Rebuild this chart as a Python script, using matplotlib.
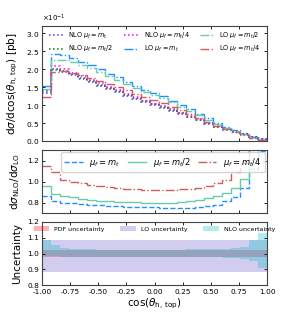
import numpy as np
import matplotlib
matplotlib.use("Agg")
import matplotlib.pyplot as plt

# 25 bins in cos(theta_h,top)
edges = np.linspace(-1.0, 1.0, 26)

# top panel, NLO and LO distributions in units of 1e-1 pb
nlo_mt = np.array([1.33, 1.97, 1.91, 1.83, 1.73, 1.64, 1.54, 1.44, 1.35, 1.25, 1.16, 1.08, 1.00,
                   0.93, 0.84, 0.755, 0.665, 0.575, 0.48, 0.39, 0.32, 0.255, 0.19, 0.113, 0.05])
nlo_mt2 = np.array([1.38, 2.00, 1.94, 1.86, 1.76, 1.67, 1.57, 1.47, 1.38, 1.28, 1.19, 1.10, 1.02,
                    0.95, 0.86, 0.77, 0.68, 0.585, 0.49, 0.40, 0.325, 0.26, 0.195, 0.12, 0.056])
nlo_mt4 = np.array([1.42, 2.08, 1.99, 1.90, 1.80, 1.70, 1.60, 1.50, 1.41, 1.31, 1.22, 1.12, 1.04,
                    0.97, 0.88, 0.79, 0.70, 0.60, 0.50, 0.41, 0.335, 0.27, 0.20, 0.125, 0.06])
lo_mt = np.array([1.54, 2.43, 2.40, 2.30, 2.20, 2.11, 1.99, 1.875, 1.77, 1.645, 1.53, 1.43, 1.33,
                  1.24, 1.12, 1.007, 0.884, 0.757, 0.627, 0.50, 0.392, 0.298, 0.203, 0.101, 0.039])
lo_mt2 = np.array([1.44, 2.265, 2.245, 2.19, 2.115, 2.02, 1.92, 1.81, 1.71, 1.59, 1.48, 1.375, 1.275,
                   1.19, 1.075, 0.957, 0.84, 0.713, 0.583, 0.463, 0.363, 0.277, 0.191, 0.089, 0.04])
lo_mt4 = np.array([1.235, 1.915, 1.96, 1.90, 1.83, 1.755, 1.675, 1.587, 1.50, 1.41, 1.32, 1.217, 1.13,
                   1.054, 0.957, 0.854, 0.753, 0.638, 0.521, 0.414, 0.33, 0.249, 0.17, 0.089, 0.0375])

# middle panel, NLO/LO ratios
r_mt = [0.864, 0.816, 0.80, 0.794, 0.785, 0.778, 0.772, 0.768, 0.764, 0.76, 0.757, 0.755, 0.753,
        0.75, 0.75, 0.75, 0.752, 0.76, 0.765, 0.78, 0.816, 0.857, 0.937, 1.12, 1.29]
r_mt2 = [0.96, 0.883, 0.864, 0.848, 0.832, 0.825, 0.818, 0.812, 0.808, 0.805, 0.802, 0.80, 0.80,
         0.80, 0.80, 0.805, 0.81, 0.82, 0.84, 0.864, 0.895, 0.937, 1.02, 1.35, 1.40]
r_mt4 = [1.15, 1.086, 1.016, 1.0, 0.985, 0.969, 0.955, 0.945, 0.94, 0.93, 0.925, 0.92, 0.92,
         0.92, 0.92, 0.925, 0.93, 0.94, 0.96, 0.99, 1.016, 1.086, 1.175, 1.40, 1.60]

# bottom panel, uncertainty bands
pdf_lo = [0.978, 0.978, 0.978, 0.979, 0.979, 0.979, 0.979, 0.980, 0.980, 0.980, 0.980, 0.980, 0.980,
          0.980, 0.980, 0.980, 0.980, 0.980, 0.979, 0.979, 0.979, 0.979, 0.978, 0.978, 0.978]
pdf_hi = [1.02, 1.02, 1.02, 1.02, 1.02, 1.02, 1.02, 1.02, 1.02, 1.02, 1.021, 1.021, 1.021,
          1.021, 1.021, 1.021, 1.02, 1.02, 1.02, 1.02, 1.02, 1.02, 1.02, 1.02, 1.02]
lo_band_lo = [0.885] * 25
lo_band_hi = [1.083] * 25
nlo_band_lo = [0.982, 0.981, 0.979, 0.977, 0.976, 0.976, 0.975, 0.975, 0.975, 0.975, 0.975, 0.975, 0.975,
               0.975, 0.975, 0.975, 0.975, 0.975, 0.975, 0.975, 0.974, 0.970, 0.965, 0.952, 0.905]
nlo_band_hi = [1.084, 1.057, 1.038, 1.03, 1.028, 1.026, 1.025, 1.025, 1.025, 1.025, 1.025, 1.025, 1.025,
               1.025, 1.025, 1.025, 1.026, 1.027, 1.028, 1.03, 1.031, 1.033, 1.042, 1.084, 1.127]

fig = plt.figure(figsize=(2.82, 3.29), dpi=100)
W, H = 282.0, 329.0
ax1 = fig.add_axes([42 / W, 1 - 141 / H, 225 / W, 115 / H])
ax2 = fig.add_axes([42 / W, 1 - 213 / H, 225 / W, 63 / H])
ax3 = fig.add_axes([42 / W, 1 - 285 / H, 225 / W, 63 / H])

sc = 1e-1
ax1.stairs(nlo_mt * sc, edges, baseline=None, color='blue', ls=':', lw=1.1, alpha=0.75,
           label=r'NLO $\mu_f = m_t$')
ax1.stairs(nlo_mt2 * sc, edges, baseline=None, color='green', ls=':', lw=1.1,
           label=r'NLO $\mu_f = m_t/2$')
ax1.stairs(nlo_mt4 * sc, edges, baseline=None, color='magenta', ls=':', lw=1.1,
           label=r'NLO $\mu_f = m_t/4$')
ax1.stairs(lo_mt * sc, edges, baseline=None, color='dodgerblue', ls='-.', lw=1.0,
           label=r'LO $\mu_f = m_t$')
ax1.stairs(lo_mt2 * sc, edges, baseline=None, color='mediumaquamarine', ls='-.', lw=1.0,
           label=r'LO $\mu_f = m_t/2$')
ax1.stairs(lo_mt4 * sc, edges, baseline=None, color='indianred', ls='-.', lw=1.0,
           label=r'LO $\mu_f = m_t/4$')
ax1.set_ylim(0, 0.32)
ax1.set_yticks(np.arange(0, 0.31, 0.05))
ax1.ticklabel_format(axis='y', style='sci', scilimits=(-1, -1), useMathText=True)
ax1.yaxis.get_offset_text().set_fontsize(5)
ax1.legend(ncol=3, fontsize=4.7, frameon=False, loc='upper center', handlelength=2.2,
           columnspacing=1.6, borderaxespad=0.3)
ax1.set_ylabel(r'd$\sigma$/dcos($\theta_{\rm h,\,top}$) [pb]', fontsize=7.5)

ax2.stairs(r_mt, edges, baseline=None, color='dodgerblue', ls='--', lw=1.0, label=r'$\mu_f = m_t$')
ax2.stairs(r_mt2, edges, baseline=None, color='mediumaquamarine', ls='-', lw=1.0, label=r'$\mu_f = m_t/2$')
ax2.stairs(r_mt4, edges, baseline=None, color='indianred', ls='-.', lw=1.0, label=r'$\mu_f = m_t/4$')
ax2.set_ylim(0.7, 1.3)
ax2.set_yticks([0.8, 1.0, 1.2])
ax2.legend(ncol=3, fontsize=6, loc='upper right', handlelength=2.2, columnspacing=0.9,
           borderaxespad=0.3)
ax2.set_ylabel(r'd$\sigma_{\rm NLO}$/d$\sigma_{\rm LO}$', fontsize=7.5)

ax3.stairs(pdf_hi, edges, baseline=pdf_lo, fill=True, color='red', alpha=0.3, lw=0,
           label='PDF uncertainty')
ax3.stairs(lo_band_hi, edges, baseline=lo_band_lo, fill=True, color='slateblue', alpha=0.3, lw=0,
           label='LO uncertainty')
ax3.stairs(nlo_band_hi, edges, baseline=nlo_band_lo, fill=True, color='c', alpha=0.3, lw=0,
           label='NLO uncertainty')
ax3.set_ylim(0.8, 1.2)
ax3.set_yticks([0.8, 0.9, 1.0, 1.1, 1.2])
ax3.legend(ncol=3, fontsize=4.5, frameon=False, loc='upper center', handlelength=2.5,
           columnspacing=2.5, borderaxespad=0.3)
ax3.set_ylabel('Uncertainty', fontsize=7.5)
ax3.set_xlabel(r'cos($\theta_{\rm h,\,top}$)', fontsize=7.5, labelpad=1)

for ax in (ax1, ax2, ax3):
    ax.set_xlim(-1, 1)
    ax.set_xticks(np.arange(-1, 1.01, 0.25))
    ax.tick_params(direction='in', top=True, right=True, labelsize=5.3, length=2.5, width=0.6, pad=2)
    for s in ax.spines.values():
        s.set_linewidth(0.8)
        s.set_color('#444444')
ax1.tick_params(labelbottom=False)
ax2.tick_params(labelbottom=False)
ax3.tick_params(axis='x', pad=3)
ax3.xaxis.set_major_formatter(matplotlib.ticker.FormatStrFormatter('%.2f'))
fig.align_ylabels([ax1, ax2, ax3])

fig.savefig('out.png', dpi=100)
